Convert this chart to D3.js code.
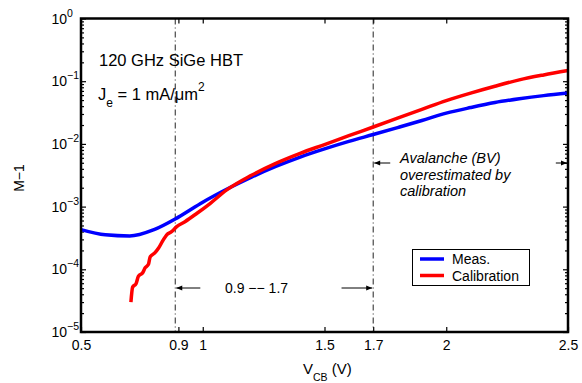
<!DOCTYPE html>
<html>
<head>
<meta charset="utf-8">
<script src="https://cdn.jsdelivr.net/npm/d3@7"></script>
<style>
  html, body { margin: 0; padding: 0; background: #fff; }
  svg { display: block; font-family: "Liberation Sans", Arial, Helvetica, sans-serif; }
</style>
</head>
<body>
<svg id="chart" width="582" height="383"></svg>
<script>
// ---- data ----
const measV = [0.5, 0.6, 0.7, 0.8, 0.9, 1.0, 1.1, 1.2, 1.3, 1.4, 1.5, 1.6, 1.7, 1.8, 1.9, 2.0, 2.1, 2.2, 2.3, 2.4, 2.5];
const measM = [4.3e-4, 3.55e-4, 3.4e-4, 4.3e-4, 6.8e-4, 1.175e-3, 1.905e-3, 2.95e-3, 4.37e-3, 6.17e-3, 8.32e-3, 1.096e-2, 1.41e-2, 1.82e-2, 2.36e-2, 3.09e-2, 3.80e-2, 4.57e-2, 5.25e-2, 5.89e-2, 6.46e-2];

const calV = [0.705, 0.712, 0.726, 0.736, 0.754, 0.763, 0.777, 0.784, 0.804, 0.818, 0.838, 0.852, 0.872, 0.893, 0.927, 0.975, 1.03, 1.1, 1.2, 1.3, 1.4, 1.5, 1.6, 1.7, 1.8, 1.9, 2.0, 2.1, 2.2, 2.3, 2.4, 2.5];
const calM = [3.0e-5, 5.2e-5, 5.9e-5, 7.8e-5, 8.9e-5, 1.05e-4, 1.2e-4, 1.58e-4, 1.84e-4, 2.16e-4, 2.95e-4, 3.55e-4, 3.98e-4, 4.79e-4, 5.75e-4, 7.76e-4, 1.12e-3, 1.86e-3, 3.16e-3, 4.90e-3, 7.08e-3, 9.77e-3, 1.35e-2, 1.86e-2, 2.57e-2, 3.55e-2, 4.90e-2, 6.46e-2, 8.32e-2, 0.105, 0.126, 0.148];

const xTicks = [0.5, 0.9, 1, 1.5, 1.7, 2, 2.5];
const xTickLabels = ["0.5", "0.9", "1", "1.5", "1.7", "2", "2.5"];
const yExponents = [0, -1, -2, -3, -4, -5];
const markerV = [0.887, 1.7];
const seriesNames = ["Meas.", "Calibration"];
const seriesColors = ["#0000ff", "#ff0000"];

// ---- layout ----
const L = 81, R = 568, T = 18.5, B = 332;
const svg = d3.select("#chart");
const x = d3.scaleLinear().domain([0.5, 2.5]).range([L, R]);
const y = d3.scaleLog().domain([1e-5, 1]).range([B, T]);

const yMajors = yExponents.map(e => Math.pow(10, e));
const yMinors = [];
for (let e = -5; e < 0; e++) for (let k = 2; k <= 9; k++) yMinors.push(k * Math.pow(10, e));

function styleAxis(g) {
  g.select(".domain").remove();
  g.selectAll(".tick line").attr("stroke", "#000").attr("stroke-width", 1.2);
}

// y axes (left + right), majors and minors
svg.append("g").attr("transform", `translate(${L},0)`)
  .call(d3.axisLeft(y).tickValues(yMajors).tickSizeInner(-5).tickSizeOuter(0).tickFormat(""))
  .call(styleAxis);
svg.append("g").attr("transform", `translate(${L},0)`)
  .call(d3.axisLeft(y).tickValues(yMinors).tickSizeInner(-3).tickSizeOuter(0).tickFormat(""))
  .call(styleAxis);
svg.append("g").attr("transform", `translate(${R},0)`)
  .call(d3.axisRight(y).tickValues(yMajors).tickSizeInner(-5).tickSizeOuter(0).tickFormat(""))
  .call(styleAxis);
svg.append("g").attr("transform", `translate(${R},0)`)
  .call(d3.axisRight(y).tickValues(yMinors).tickSizeInner(-3).tickSizeOuter(0).tickFormat(""))
  .call(styleAxis);

// x axes (bottom + top)
const xb = svg.append("g").attr("transform", `translate(0,${B})`)
  .call(d3.axisBottom(x).tickValues(xTicks).tickSizeInner(-5).tickSizeOuter(0)
    .tickFormat((d, i) => xTickLabels[i]))
  .call(styleAxis);
xb.selectAll(".tick text")
  .attr("y", 18).attr("dy", 0)
  .attr("font-size", 14).attr("fill", "#000")
  .attr("font-family", "Liberation Sans, Arial, sans-serif");
svg.append("g").attr("transform", `translate(0,${T})`)
  .call(d3.axisTop(x).tickValues(xTicks).tickSizeInner(-5).tickSizeOuter(0).tickFormat(""))
  .call(styleAxis);

// y tick labels 10^e
const yl = svg.append("g").attr("font-size", 14).attr("fill", "#000");
yExponents.forEach(e => {
  yl.append("text")
    .attr("x", 67).attr("y", y(Math.pow(10, e)) + 5)
    .attr("text-anchor", "end")
    .text("10");
  yl.append("text")
    .attr("x", 67).attr("y", y(Math.pow(10, e)) - 2)
    .attr("font-size", 10.5)
    .text(e === 0 ? "0" : "\u2212" + Math.abs(e));
});

// marker dash-dot lines
svg.append("g").selectAll("line").data(markerV).join("line")
  .attr("x1", d => x(d)).attr("x2", d => x(d))
  .attr("y1", T).attr("y2", B)
  .attr("stroke", "#222").attr("stroke-width", 1)
  .attr("stroke-dasharray", "6,3,1,3");

// curves
const line = d3.line().x(d => x(d[0])).y(d => y(d[1])).curve(d3.curveMonotoneX);
const measData = measV.map((v, i) => [v, measM[i]]);
const calData = calV.map((v, i) => [v, calM[i]]);
svg.append("path").datum(measData).attr("d", line)
  .attr("fill", "none").attr("stroke", seriesColors[0]).attr("stroke-width", 3.5)
  .attr("stroke-linejoin", "round");
svg.append("path").datum(calData).attr("d", line)
  .attr("fill", "none").attr("stroke", seriesColors[1]).attr("stroke-width", 3.5)
  .attr("stroke-linejoin", "round");

// frame
svg.append("rect").attr("x", L).attr("y", T).attr("width", R - L).attr("height", B - T)
  .attr("fill", "none").attr("stroke", "#000").attr("stroke-width", 2.5);

// arrowhead marker
const defs = svg.append("defs");
defs.append("marker").attr("id", "ah").attr("viewBox", "0 0 10 10")
  .attr("refX", 10).attr("refY", 5).attr("markerWidth", 8).attr("markerHeight", 6)
  .attr("markerUnits", "userSpaceOnUse").attr("orient", "auto")
  .append("path").attr("d", "M0,1 L10,5 L0,9 Z").attr("fill", "#000");

function arrow(x1, x2, yy) {
  svg.append("line").attr("x1", x1).attr("x2", x2).attr("y1", yy).attr("y2", yy)
    .attr("stroke", "#000").attr("stroke-width", 1).attr("marker-end", "url(#ah)");
}
// range arrows
arrow(x(0.99), x(markerV[0]) + 1, 288);
arrow(x(1.57), x(1.7) - 1, 288);
arrow(x(1.77), x(1.7) + 1, 163);
arrow(x(2.45), R - 1, 163);

// texts
svg.append("text").attr("x", 99).attr("y", 66).attr("font-size", 16.5).text("120 GHz SiGe HBT");
const je = svg.append("text").attr("x", 98).attr("y", 100).attr("font-size", 16.5);
je.append("tspan").text("J");
je.append("tspan").attr("dy", 7).attr("font-size", 12).text("e");
je.append("tspan").attr("dy", -7).text(" = 1 mA/\u03bcm");
je.append("tspan").attr("dy", -9).attr("font-size", 12).text("2");

svg.append("text").attr("x", 225).attr("y", 293).attr("font-size", 14).text("0.9 \u2212\u2212 1.7");

const av = svg.append("text").attr("font-size", 14.5).attr("font-style", "italic");
["Avalanche (BV)", "overestimated by", "calibration"].forEach((s, i) => {
  av.append("tspan").attr("x", 400).attr("y", 163 + i * 16.5).text(s);
});

// axis titles
const xt = svg.append("text").attr("x", 303).attr("y", 374).attr("font-size", 15);
xt.append("tspan").text("V");
xt.append("tspan").attr("dy", 7).attr("font-size", 10.5).text("CB");
xt.append("tspan").attr("dy", -7).text(" (V)");

svg.append("text").attr("transform", "translate(24,178) rotate(-90)")
  .attr("text-anchor", "middle").attr("font-size", 14).text("M\u22121");

// legend
const lg = svg.append("g");
lg.append("rect").attr("x", 412.5).attr("y", 249.5).attr("width", 117).attr("height", 36)
  .attr("fill", "#fff").attr("stroke", "#000").attr("stroke-width", 1);
seriesNames.forEach((n, i) => {
  const yy = 259 + i * 16.5;
  lg.append("line").attr("x1", 420).attr("x2", 444).attr("y1", yy).attr("y2", yy)
    .attr("stroke", seriesColors[i]).attr("stroke-width", 3.5);
  lg.append("text").attr("x", 452).attr("y", yy + 5).attr("font-size", 14).text(n);
});
</script>
</body>
</html>
